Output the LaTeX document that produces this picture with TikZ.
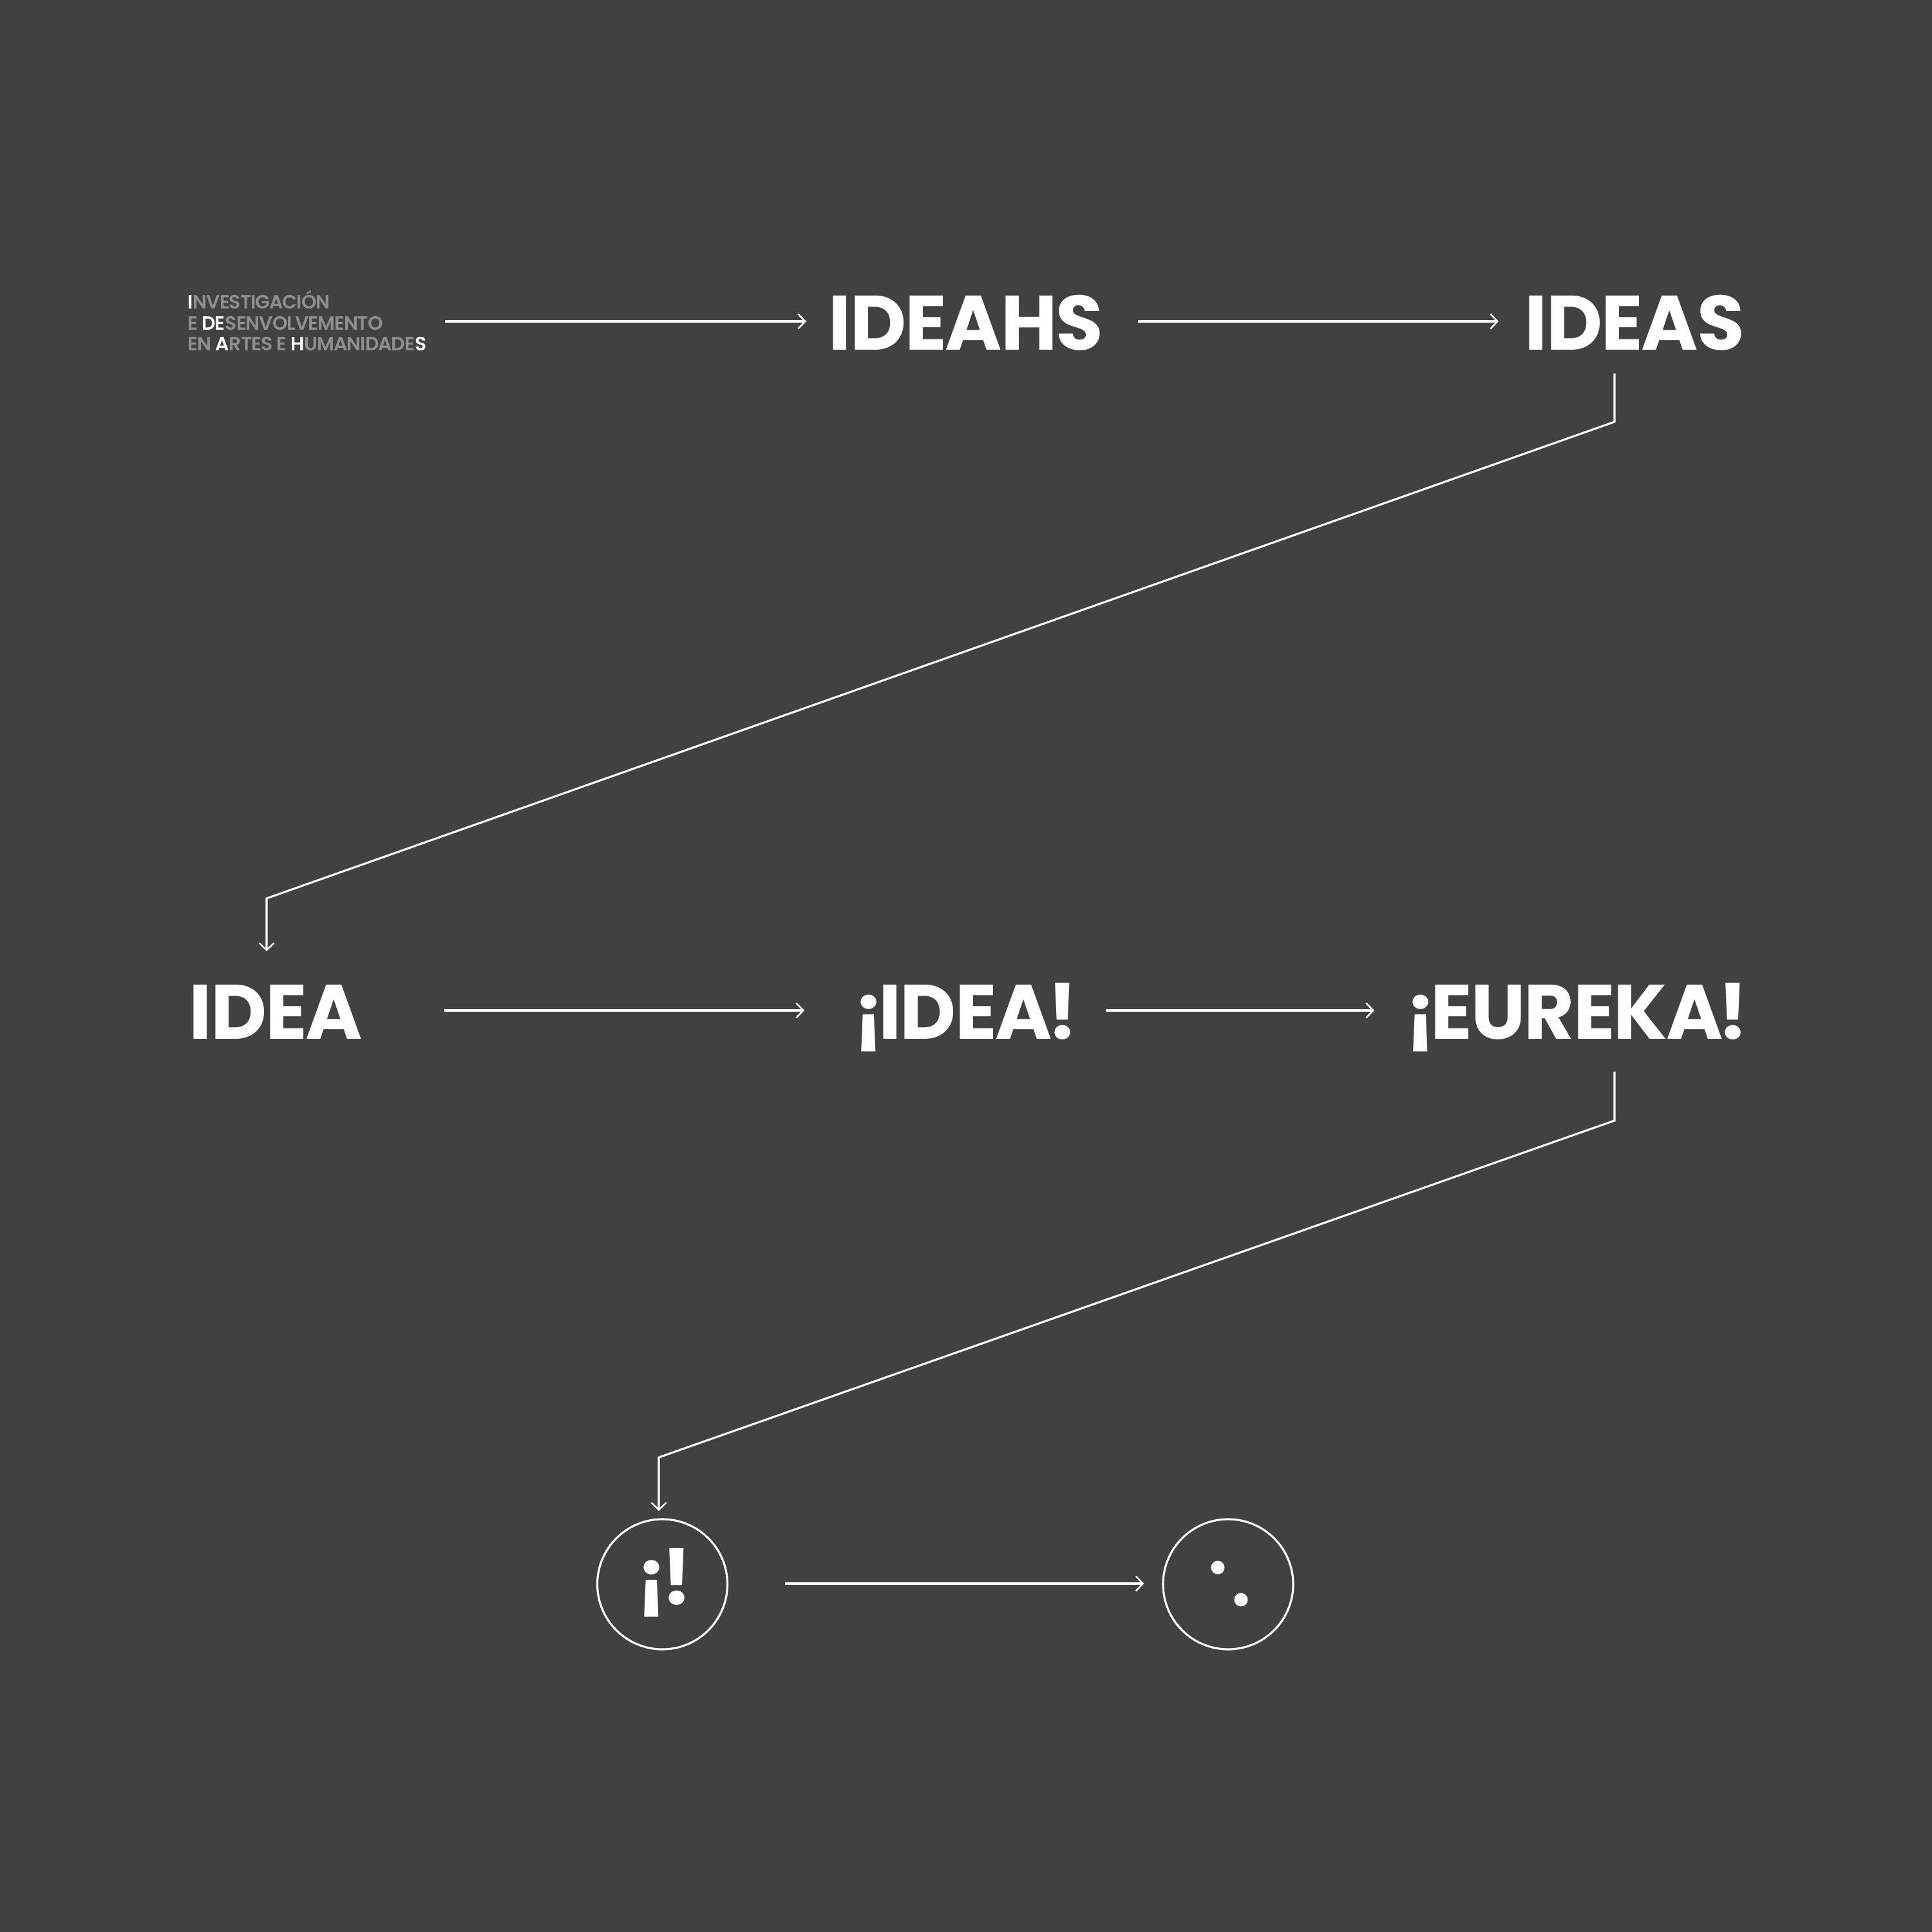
\documentclass[tikz,border=0pt]{standalone}
\usepackage{fontspec}
\setmainfont{Poppins}
\newfontfamily\wordfont[LetterSpace=-1.7]{Poppins}
\newfontfamily\legendfont[LetterSpace=-3.4]{Poppins SemiBold}
\usepackage{xcolor}
\usetikzlibrary{arrows.meta, positioning, calc}
\definecolor{bgdark}{HTML}{414141}
\definecolor{dimgrey}{HTML}{8F8F8F}
\tikzset{
  >={Straight Barb[length=1.1mm,width=2.3mm,line width=0.7pt]},
  every path/.style={line width=0.9pt},
  word/.style={text=white,font=\fontsize{34.1}{36}\wordfont\bfseries,inner sep=0pt,anchor=base west},
  flow/.style={->,draw=white},
  bent/.style={->,draw=white,rounded corners=0pt},
  face/.style={circle,draw=white,minimum size=2.02cm,inner sep=0pt},
  eye/.style={circle,fill=white,minimum size=0.21cm,inner sep=0pt}
}
\newcommand\Lit[1]{\textcolor{white}{#1}}
\newcommand\Tight{\kern-0.08cm}

\begin{document}
\begin{tikzpicture}
    \fill[bgdark] (0,0) rectangle (30,-30);
    \useasboundingbox (0,0) rectangle (30,-30);

    \node[inner sep=0pt,anchor=west,align=left,text=dimgrey,
      font=\fontsize{8.5}{9.25}\legendfont] (legend) at (2.9,-4.98)
      {\Lit{I}NVESTIGACIÓN\\E \Lit{DE}SENVOLVEMENTO\\EN \Lit{A}RTES E \Lit{H}UMANIDADE\Lit{S}};

    \node[word] (ideahs) at (12.85,-5.44) {IDEAHS};
    \node[word] (ideas) at (23.66,-5.44) {IDEAS};
    \node[word] (idea) at (2.92,-16.13) {IDEA};
    \node[word] (ideab) at (13.24,-16.13) {¡\Tight IDEA\Tight !};
    \node[word] (eureka) at (21.81,-16.13) {¡\Tight EUREKA\Tight !};

    \node[face] (surprise) at (10.285,-24.6) {};
    \node[word] (marks) at (9.87,-24.91) {¡\Tight !};
    \node[face] (smile) at (19.07,-24.6) {};
    \node[eye] (eyea) at (18.91,-24.34) {};
    \node[eye] (eyeb) at (19.27,-24.84) {};

    \coordinate (benda) at (25.07,-6.55);
    \coordinate (bendb) at (4.14,-13.95);
    \coordinate (bendc) at (25.07,-17.4);
    \coordinate (bendd) at (10.23,-22.63);

    \draw[flow,shorten <=0.27cm,shorten >=0.33cm] (legend.east |- 0,-4.99) -- (ideahs.west |- 0,-4.99);
    \draw[flow,shorten <=0.52cm,shorten >=0.39cm] (ideahs.east |- 0,-4.99) -- (ideas.west |- 0,-4.99);
    \draw[flow,shorten <=1.25cm,shorten >=0.75cm] (idea.east |- 0,-15.69) -- (ideab.west |- 0,-15.69);
    \draw[flow,shorten <=0.42cm,shorten >=0.47cm] (ideab.east |- 0,-15.69) -- (eureka.west |- 0,-15.69);
    \draw[flow,shorten <=0.88cm,shorten >=0.28cm] (surprise.east |- 0,-24.59) -- (smile.west |- 0,-24.59);

    \draw[bent] (benda |- 0,-5.8) -- (benda) -- (bendb) -- (bendb |- 0,-14.77);
    \draw[bent] (bendc |- 0,-16.64) -- (bendc) -- (bendd) -- (bendd |- 0,-23.46);
\end{tikzpicture}
\end{document}
